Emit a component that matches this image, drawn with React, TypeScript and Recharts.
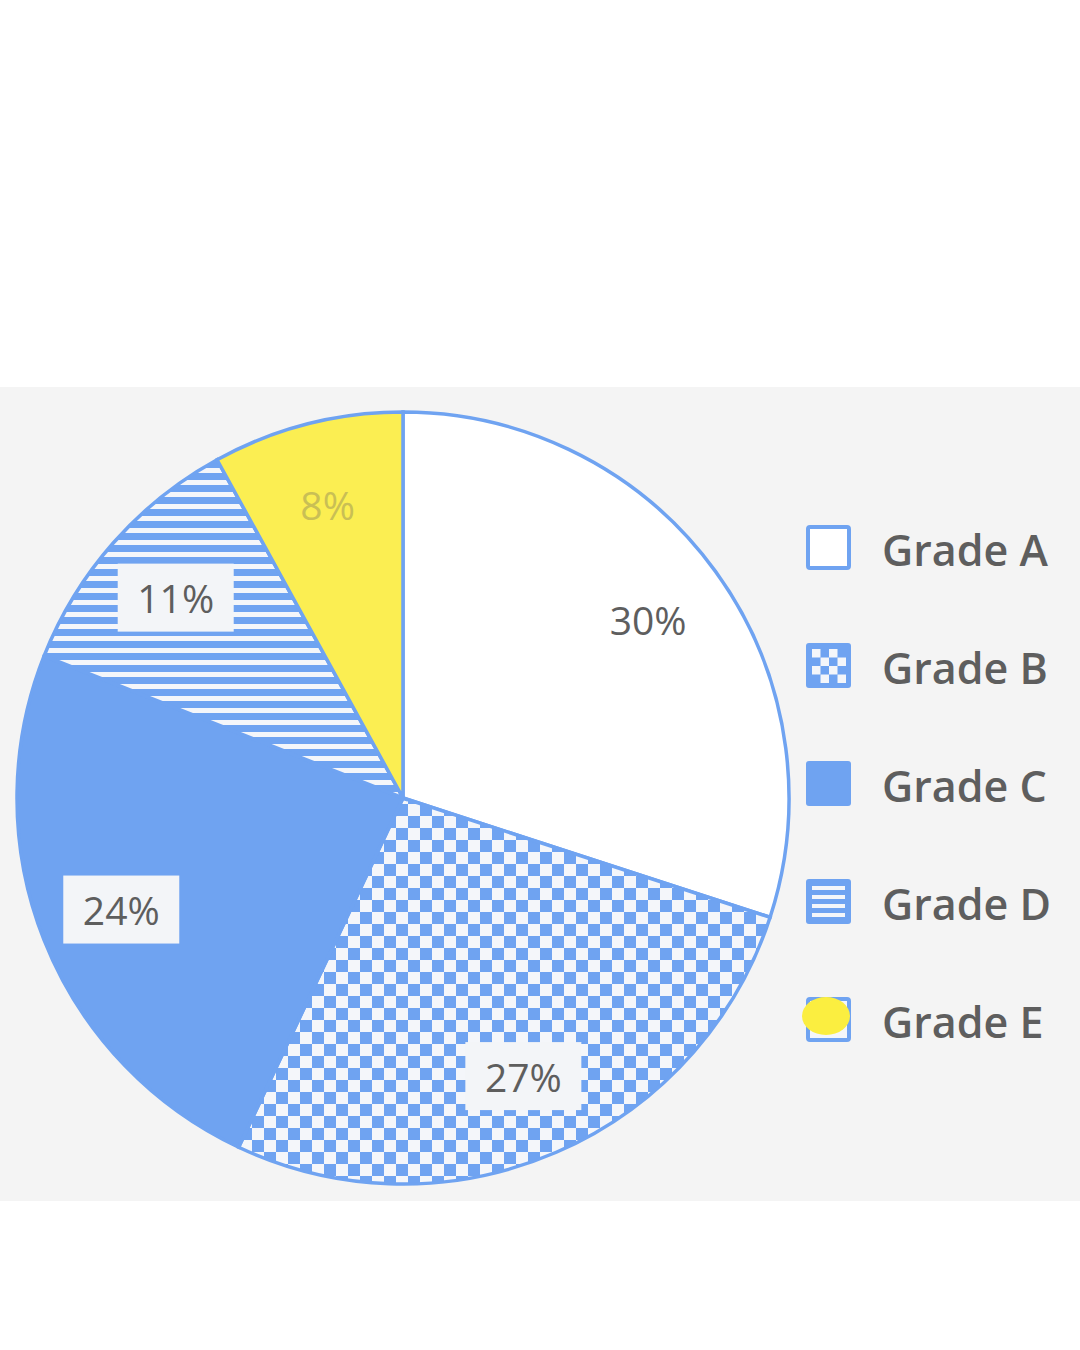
import React from "react";
import { PieChart, Pie, Cell, Legend } from "recharts";

const GRADES = ["Grade A", "Grade B", "Grade C", "Grade D", "Grade E"];
const SHARES = [30, 27, 24, 11, 8];
const FILLS = ["#ffffff", "url(#checker)", "#6fa3f1", "url(#stripes)", "#fbee52"];

const BLUE = "#6fa3f1";
const TEXT = "#5e5e5e";
const RAD = Math.PI / 180;

const data = GRADES.map((name, i) => ({ name, value: SHARES[i] }));

function PctLabel(props: any) {
  const { cx, cy, midAngle, outerRadius, index } = props;
  const r = outerRadius * 0.785;
  const x = cx + r * Math.cos(-midAngle * RAD);
  const y = cy + r * Math.sin(-midAngle * RAD);
  const boxed = index === 1 || index === 2 || index === 3;
  const faint = index === 4;
  return (
    <g>
      {boxed && <rect x={x - 58} y={y - 34} width={116} height={68} fill="#f3f5f8" />}
      <text
        x={x}
        y={y}
        textAnchor="middle"
        dominantBaseline="central"
        fontSize={39}
        fontFamily="'Open Sans', sans-serif"
        fill={faint ? "#c9bf55" : TEXT}
      >
        {`${SHARES[index]}%`}
      </text>
    </g>
  );
}

function LegendIcon({ i }: { i: number }) {
  const s = 45;
  if (i === 0) return <rect x={2} y={2} width={s - 4} height={s - 4} rx={2} fill="#fff" stroke={BLUE} strokeWidth={4} />;
  if (i === 1) {
    const cells = [];
    for (let r = 0; r < 4; r++)
      for (let c = 0; c < 4; c++)
        if ((r + c) % 2 === 0) cells.push(<rect key={`${r}-${c}`} x={6 + c * 8.5} y={6 + r * 8.5} width={8.5} height={8.5} fill="#f4f6fa" />);
    return (
      <g>
        <rect x={0} y={0} width={s} height={s} rx={3} fill={BLUE} />
        {cells}
      </g>
    );
  }
  if (i === 2) return <rect x={0} y={0} width={s} height={s} rx={3} fill={BLUE} />;
  if (i === 3)
    return (
      <g>
        <rect x={0} y={0} width={s} height={s} rx={3} fill={BLUE} />
        {[9, 18, 27, 36].map((yy) => (
          <rect key={yy} x={6} y={yy - 2} width={s - 12} height={4} fill="#f4f6fa" />
        ))}
      </g>
    );
  return (
    <g>
      <rect x={2} y={2} width={s - 4} height={s - 4} rx={2} fill="#f4f6fa" stroke={BLUE} strokeWidth={4} />
      <ellipse cx={20} cy={19} rx={24} ry={19} fill="#fbee40" />
    </g>
  );
}

function GradeLegend() {
  return (
    <div style={{ display: "flex", flexDirection: "column" }}>
      {GRADES.map((g, i) => (
        <div key={g} style={{ display: "flex", alignItems: "center", height: 118 }}>
          <svg width={48} height={48} style={{ overflow: "visible" }}>
            <LegendIcon i={i} />
          </svg>
          <span
            style={{
              marginLeft: 28,
              fontFamily: "'Open Sans', sans-serif",
              fontWeight: 600,
              fontSize: 43,
              color: TEXT,
              whiteSpace: "nowrap",
            }}
          >
            {g}
          </span>
        </div>
      ))}
    </div>
  );
}

export default function App() {
  return (
    <div style={{ position: "absolute", left: 0, top: 0, width: 1080, height: 1350, background: "#ffffff", overflow: "hidden" }}>
      <div style={{ position: "absolute", left: 0, top: 387, width: 1080, height: 814, background: "#f4f4f4" }} />
      <div style={{ position: "absolute", left: 0, top: 0 }}>
        <PieChart width={1080} height={1350}>
          <defs>
            <pattern id="checker" width={24} height={24} patternUnits="userSpaceOnUse">
              <rect width={24} height={24} fill="#f4f6fa" />
              <rect x={0} y={0} width={12} height={12} fill={BLUE} />
              <rect x={12} y={12} width={12} height={12} fill={BLUE} />
            </pattern>
            <pattern id="stripes" width={12} height={12} patternUnits="userSpaceOnUse">
              <rect width={12} height={12} fill={BLUE} />
              <rect x={0} y={0} width={12} height={5} fill="#f4f6fa" />
            </pattern>
          </defs>
          <Pie
            data={data}
            dataKey="value"
            nameKey="name"
            cx={398}
            cy={793}
            outerRadius={386}
            startAngle={90}
            endAngle={-270}
            stroke={BLUE}
            strokeWidth={3.5}
            label={PctLabel}
            labelLine={false}
            isAnimationActive={false}
          >
            {data.map((d, i) => (
              <Cell key={d.name} fill={FILLS[i]} />
            ))}
          </Pie>
          <Legend
            layout="vertical"
            align="right"
            verticalAlign="top"
            content={() => <GradeLegend />}
            wrapperStyle={{ left: 806, top: 490, width: 270 }}
          />
        </PieChart>
      </div>
    </div>
  );
}
